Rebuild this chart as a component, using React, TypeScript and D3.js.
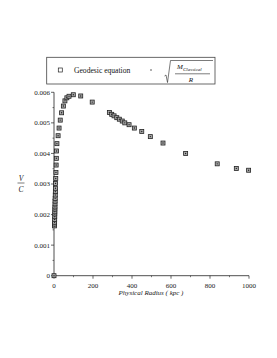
import React from "react";
import * as d3 from "d3";

const radii = [0, 2.8, 3.0, 3.2, 3.4, 3.7, 4.0, 4.2, 4.5, 4.8, 5.2, 5.5, 6, 6.5, 7, 7.5, 8, 9, 10, 11, 12, 13, 15, 21, 26, 32, 39, 48, 56, 66, 77, 99, 137, 196, 284, 296, 308, 322, 335, 350, 363, 385, 412, 450, 494, 559, 675, 837, 935, 998];
const velocities = [0, 1.63, 1.69, 1.75, 1.84, 1.93, 2.02, 2.09, 2.18, 2.25, 2.35, 2.44, 2.53, 2.64, 2.75, 2.86, 3.02, 3.18, 3.38, 3.62, 3.84, 4.08, 4.32, 4.58, 4.83, 5.09, 5.33, 5.55, 5.72, 5.82, 5.87, 5.92, 5.88, 5.68, 5.34, 5.28, 5.23, 5.17, 5.12, 5.06, 5.0, 4.94, 4.83, 4.72, 4.55, 4.34, 4.0, 3.66, 3.51, 3.45].map(v => v / 1000);
const xTicks = [0, 200, 400, 600, 800, 1000];
const yTicks = [0, 0.001, 0.002, 0.003, 0.004, 0.005, 0.006];
const yTickLabels = ["0", "0.001", "0.002", "0.003", "0.004", "0.005", "0.006"];

const FONT = "'Liberation Serif', 'DejaVu Serif', serif";

export default function App() {
  const x = d3.scaleLinear().domain([0, 1000]).range([54, 249]);
  const y = d3.scaleLinear().domain([0, 0.006]).range([275.7, 92.3]);
  const xMinor = d3.range(100, 1000, 200);
  const yMinor = d3.range(0.0005, 0.006, 0.001);
  const pts = radii.map((r, i) => ({ r, v: velocities[i] }));
  const s = 4;
  return (
    <svg width={277} height={358} style={{ position: "absolute", left: 0, top: 0, background: "#fff" }} fontFamily={FONT}>
      {/* legend */}
      <rect x={46.7} y={57.3} width={168.3} height={26.7} fill="#fff" stroke="#444" strokeWidth={0.8} />
      <rect x={60.3 - 2} y={70 - 2} width={4} height={4} fill="#fff" stroke="#222" strokeWidth={0.7} />
      <text x={74} y={73} fontSize={7.6} fill="#111">Geodesic equation</text>
      <circle cx={151} cy={70} r={0.7} fill="#222" />
      <path d="M164.5,76 L166,75 L167.5,82.5 L170.5,60.5 L213,60.5" fill="none" stroke="#222" strokeWidth={0.6} />
      <text x={177} y={69} fontSize={7} fontStyle="italic" fill="#111">M</text>
      <text x={183} y={71} fontSize={5} fontStyle="italic" fill="#111">Classical</text>
      <line x1={175} x2={210} y1={73.8} y2={73.8} stroke="#222" strokeWidth={0.6} />
      <text x={191} y={81.5} fontSize={7} fontStyle="italic" fill="#111" textAnchor="middle">R</text>

      {/* y axis */}
      <line x1={54} x2={54} y1={y(0)} y2={y(0.006)} stroke="#222" strokeWidth={0.8} />
      {yTicks.map((t, i) => (
        <g key={"yt" + i}>
          <line x1={51} x2={54} y1={y(t)} y2={y(t)} stroke="#222" strokeWidth={0.7} />
          <text x={50} y={y(t) + 2.4} fontSize={7} textAnchor="end" fill="#222">{yTickLabels[i]}</text>
        </g>
      ))}
      {yMinor.map((t, i) => (
        <line key={"ym" + i} x1={52.5} x2={54} y1={y(t)} y2={y(t)} stroke="#222" strokeWidth={0.6} />
      ))}
      <text x={21} y={180.5} fontSize={7.5} fontStyle="italic" textAnchor="middle" fill="#222">V</text>
      <line x1={17.5} x2={24.5} y1={183} y2={183} stroke="#222" strokeWidth={0.6} />
      <text x={21} y={192} fontSize={7.5} fontStyle="italic" textAnchor="middle" fill="#222">C</text>

      {/* x axis */}
      <line x1={52} x2={x(1000)} y1={y(0)} y2={y(0)} stroke="#222" strokeWidth={0.8} />
      {xTicks.map((t, i) => (
        <g key={"xt" + i}>
          <line x1={x(t)} x2={x(t)} y1={y(0)} y2={y(0) + 3} stroke="#222" strokeWidth={0.7} />
          <text x={x(t)} y={287.5} fontSize={7} textAnchor="middle" fill="#222">{t}</text>
        </g>
      ))}
      {xMinor.map((t, i) => (
        <line key={"xm" + i} x1={x(t)} x2={x(t)} y1={y(0)} y2={y(0) + 1.5} stroke="#222" strokeWidth={0.6} />
      ))}
      <text x={151} y={294.5} fontSize={7} fontStyle="italic" textAnchor="middle" fill="#222">Physical  Radius ( kpc )</text>

      {/* points */}
      {pts.map((p, i) => (
        <g key={"p" + i}>
          <rect x={x(p.r) - s / 2} y={y(p.v) - s / 2} width={s} height={s} fill="#aaa" stroke="#222" strokeWidth={0.8} />
          <circle cx={x(p.r)} cy={y(p.v)} r={0.7} fill="#222" />
        </g>
      ))}
    </svg>
  );
}
